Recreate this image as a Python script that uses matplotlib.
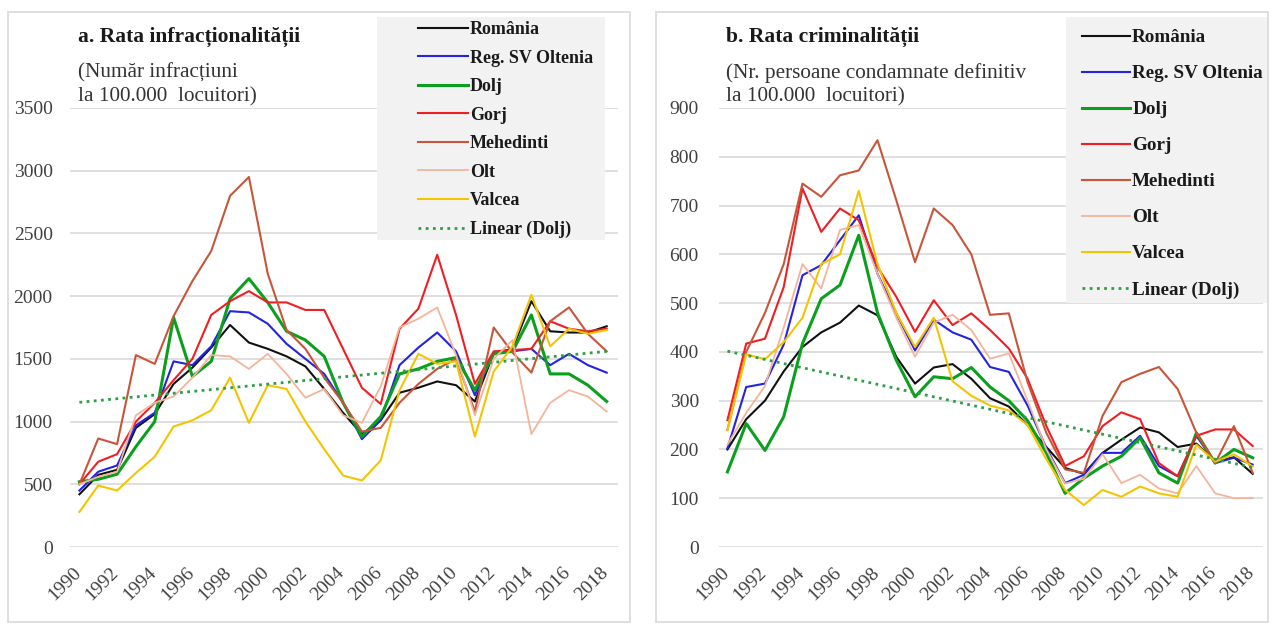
import numpy as np
import matplotlib
matplotlib.use("Agg")
import matplotlib.pyplot as plt
from matplotlib.patches import Rectangle
from matplotlib.transforms import ScaledTranslation

plt.rcParams['font.family'] = ['Liberation Serif', 'DejaVu Serif']

years = list(range(1990, 2019))
series_names = ["România", "Reg. SV Oltenia", "Dolj", "Gorj", "Mehedinti", "Olt", "Valcea"]

# a. Rata infractionalitatii (infractiuni la 100.000 locuitori)
ro_a = [420, 575, 615, 950, 1060, 1300, 1430, 1590, 1770, 1630, 1580, 1520, 1440, 1260, 1070,
        900, 1010, 1230, 1270, 1320, 1290, 1160, 1545, 1580, 1960, 1720, 1710, 1710, 1760]
sv_a = [450, 600, 650, 970, 1070, 1480, 1450, 1600, 1880, 1870, 1780, 1620, 1500, 1380, 1150,
        860, 1010, 1450, 1590, 1710, 1560, 1210, 1550, 1560, 1580, 1450, 1540, 1450, 1390]
dolj_a = [520, 540, 580, 800, 1000, 1830, 1360, 1480, 1980, 2140, 1950, 1720, 1650, 1520, 1150,
          880, 1040, 1380, 1420, 1480, 1510, 1250, 1540, 1560, 1850, 1380, 1380, 1290, 1160]
gorj_a = [500, 680, 740, 1000, 1150, 1330, 1500, 1850, 1960, 2040, 1950, 1950, 1890, 1890, 1580,
          1270, 1140, 1740, 1900, 2330, 1850, 1300, 1560, 1570, 1580, 1800, 1740, 1720, 1740]
meh_a = [500, 865, 820, 1530, 1460, 1840, 2120, 2360, 2800, 2950, 2180, 1730, 1580, 1350, 1150,
         920, 950, 1150, 1300, 1420, 1500, 1080, 1750, 1550, 1390, 1800, 1910, 1700, 1560]
olt_a = [500, 560, 600, 1050, 1150, 1200, 1350, 1530, 1520, 1420, 1540, 1380, 1190, 1260, 1050,
         990, 1280, 1750, 1820, 1910, 1530, 1050, 1500, 1650, 900, 1150, 1250, 1200, 1080]
val_a = [280, 490, 450, 590, 720, 960, 1010, 1090, 1350, 990, 1290, 1260, 1000, 780, 570,
         530, 690, 1250, 1540, 1460, 1480, 880, 1400, 1600, 2010, 1600, 1740, 1700, 1730]

# b. Rata criminalitatii (persoane condamnate definitiv la 100.000 locuitori)
ro_b = [200, 262, 300, 360, 410, 440, 460, 495, 475, 390, 335, 368, 375, 345, 305,
        288, 250, 205, 162, 150, 193, 220, 245, 235, 205, 212, 176, 184, 150]
sv_b = [202, 328, 335, 415, 557, 578, 629, 680, 560, 479, 403, 466, 440, 425, 369,
        359, 290, 203, 131, 148, 193, 193, 228, 166, 145, 228, 172, 183, 169]
dolj_b = [154, 253, 198, 267, 417, 509, 537, 639, 480, 383, 308, 349, 345, 368, 328,
          300, 259, 193, 110, 141, 166, 186, 224, 152, 131, 234, 172, 200, 183]
gorj_b = [260, 417, 427, 533, 735, 646, 694, 670, 574, 513, 441, 506, 455, 479, 445,
          407, 345, 248, 166, 186, 248, 276, 262, 172, 145, 228, 241, 241, 207]
meh_b = [240, 400, 480, 580, 745, 718, 762, 772, 834, 711, 584, 694, 660, 600, 476,
         479, 338, 234, 159, 152, 269, 338, 355, 369, 324, 234, 172, 248, 152]
olt_b = [210, 275, 330, 450, 580, 530, 650, 660, 560, 470, 390, 460, 476, 445, 386,
         397, 300, 200, 130, 140, 190, 131, 148, 120, 110, 166, 110, 100, 100]
val_b = [240, 395, 385, 420, 470, 580, 600, 730, 580, 480, 410, 470, 340, 310, 290,
         280, 250, 180, 117, 86, 117, 103, 124, 110, 103, 210, 175, 190, 165]

colors = ["#111111", "#2323E0", "#0AA01E", "#F01E23", "#C8553A", "#F4B49A", "#F5C400"]
widths = [1.5, 1.5, 2.2, 1.5, 1.5, 1.3, 1.5]
trend_color = "#2E9E45"
grid_color = "#D9D9D9"
tick_color = "#404040"

W, H = 1272, 625
fig = plt.figure(figsize=(W / 100, H / 100), dpi=100)


def fx(px):
    return px / W


def fy(py):
    return 1 - py / H


def rect(x0, y0, x1, y1, **kw):
    return Rectangle((fx(x0), fy(y1)), fx(x1) - fx(x0), fy(y0) - fy(y1),
                     transform=fig.transFigure, **kw)


# panel frames
fig.patches.append(rect(8, 12, 630, 622, fill=False, edgecolor=grid_color, linewidth=1.2))
fig.patches.append(rect(656, 12, 1268, 622, fill=False, edgecolor=grid_color, linewidth=1.2))

panels = [
    dict(pos=(70, 618), data=[ro_a, sv_a, dolj_a, gorj_a, meh_a, olt_a, val_a],
         ymax=3500, ystep=500, xlim=(1989.5, 2018.6), ypad=12.5,
         title="a. Rata infracționalității", tx=78,
         sub=["(Număr infracțiuni", "la 100.000  locuitori)"],
         legbox=(377, 17, 605, 240), leg_x=418, leg_y=21, leg_fs=13,
         leg_spacing=0.64, leg_handle=2.75),
    dict(pos=(719, 1263), data=[ro_b, sv_b, dolj_b, gorj_b, meh_b, olt_b, val_b],
         ymax=900, ystep=100, xlim=(1989.55, 2018.55), ypad=14.5,
         title="b. Rata criminalității", tx=726,
         sub=["(Nr. persoane condamnate definitiv", "la 100.000  locuitori)"],
         legbox=(1066, 17, 1268, 303), leg_x=1082, leg_y=29, leg_fs=13.8,
         leg_spacing=0.97, leg_handle=2.5),
]

for p in panels:
    x0, x1 = p["pos"]
    ax = fig.add_axes([fx(x0), fy(547), fx(x1) - fx(x0), fy(108) - fy(547)])
    ax.set_facecolor("none")
    for name, vals, c, lw in zip(series_names, p["data"], colors, widths):
        ax.plot(years, vals, color=c, lw=lw, label=name, zorder=3)
    dolj = p["data"][2]
    k, b = np.polyfit(years, dolj, 1)
    yr = np.array(years)
    ax.plot(yr, k * yr + b, color=trend_color, lw=2.0, ls=(0, (1, 1.6)),
            label="Linear (Dolj)", zorder=4)

    ax.set_xlim(*p["xlim"])
    ax.set_ylim(0, p["ymax"])
    ax.set_yticks(np.arange(0, p["ymax"] + 1, p["ystep"]))
    ax.set_xticks(years[::2])
    ax.set_xticklabels([str(y) for y in years[::2]], rotation=45, ha="right",
                       va="top", rotation_mode="anchor")
    ax.tick_params(length=0, labelsize=14, colors=tick_color, pad=6)
    ax.tick_params(axis="y", pad=p["ypad"])
    shift = ScaledTranslation(-0.07, -0.09, fig.dpi_scale_trans)
    for lab in ax.get_xticklabels():
        lab.set_transform(lab.get_transform() + shift)
    ax.grid(axis="y", color=grid_color, lw=1.2)
    ax.set_axisbelow(True)
    for s in ax.spines.values():
        s.set_visible(False)

    fig.text(fx(p["tx"]), fy(37), p["title"], fontsize=15.5, fontweight="bold",
             color="#1a1a1a", va="center", ha="left")
    for line, yy in zip(p["sub"], [73, 97]):
        fig.text(fx(p["tx"]), fy(yy), line, fontsize=15.3, color="#333333",
                 va="center", ha="left")

    # legend background, drawn over the lines like the Excel legend box
    bx0, by0, bx1, by1 = p["legbox"]
    ax.add_patch(rect(bx0, by0, bx1, by1, facecolor="#F2F2F2", edgecolor="none",
                      zorder=4.5, clip_on=False))
    leg = ax.legend(loc="upper left", bbox_to_anchor=(fx(p["leg_x"]), fy(p["leg_y"])),
                    bbox_transform=fig.transFigure, frameon=False,
                    prop=dict(family="Liberation Serif", weight="bold", size=p["leg_fs"]),
                    labelspacing=p["leg_spacing"], handlelength=p["leg_handle"],
                    handletextpad=0.12, borderpad=0, borderaxespad=0)
    leg.set_zorder(6)
    for t in leg.get_texts():
        t.set_color("#1a1a1a")

fig.savefig("out.png", dpi=100)
